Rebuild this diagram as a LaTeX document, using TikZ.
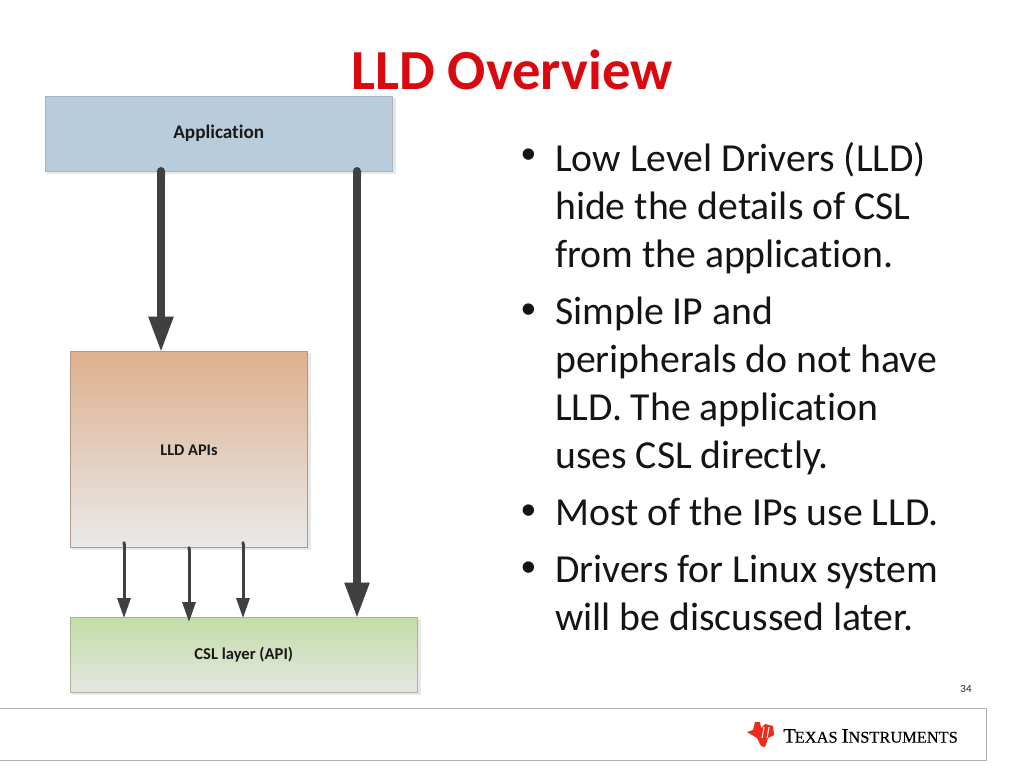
\documentclass[tikz,border=0pt]{standalone}
\usepackage{fontspec}
\setmainfont[Ligatures=NoCommon]{Carlito}
\newfontfamily\serifti[FakeBold=0.4]{Liberation Serif}
\newfontfamily\bulletfont{Liberation Sans}
\usetikzlibrary{arrows.meta}
\definecolor{arrowgray}{HTML}{404040}
\definecolor{appblue}{HTML}{B8CCDC}
\definecolor{lldtop}{HTML}{DEB08E}
\definecolor{lldbot}{HTML}{E9E9E9}
\definecolor{csltop}{HTML}{C2DDA6}
\definecolor{cslbot}{HTML}{E6E6E4}
\definecolor{tired}{HTML}{EE2A1B}
\definecolor{titlered}{HTML}{D90A0F}
\tikzset{
  blockbox/.style={anchor=north west,inner sep=0pt,outer sep=0pt,draw=#1,line width=0.8pt,text=black!90},
  bigarrow/.style={draw=#1,line width=8pt,{Round Cap[]}-{Triangle[length=36pt,width=23pt]}},
  smallarrow/.style={draw=#1,line width=3pt,{Round Cap[]}-{Triangle[length=20pt,width=13pt]}},
  bullettext/.style={anchor=north west,inner sep=0pt,align=left,text=black!92,font=\fontsize{39.7}{48}\selectfont},
  bulletmark/.style={anchor=center,inner sep=0pt,text=black!92,font=\bulletfont\fontsize{42}{48}\selectfont},
  boxshadow/.style={fill=black!9,draw=none},
}
\begin{document}
\begin{tikzpicture}[x=1pt,y=-1pt]
\useasboundingbox (0,0) rectangle (1024,768);
% shadows
\fill[boxshadow] (47,98) rectangle (395.5,173.5);
\fill[boxshadow] (72,353) rectangle (310.5,549.5);
\fill[boxshadow] (72,619) rectangle (420.5,694.5);
% blocks
\node[blockbox=appblue!70!gray,fill=appblue,minimum width=347.5pt,minimum height=74.5pt,font=\bfseries\fontsize{19.2}{22}\selectfont] (app) at (45,96.5) {Application};
\node[blockbox=lldtop!50!gray,top color=lldtop,bottom color=lldbot,minimum width=237.5pt,minimum height=196pt] (lld) at (70,351) {};
\node[font=\bfseries\fontsize{16.3}{19}\selectfont,text=black!90] (lldlabel) at (189,450) {LLD APIs};
\node[blockbox=csltop!60!gray,top color=csltop,bottom color=cslbot,minimum width=347.5pt,minimum height=75pt,font=\bfseries\fontsize{16.6}{19}\selectfont] (csl) at (70,617.5) {CSL layer (API)};
% title
\node[text=titlered,font=\bfseries\fontsize{56.6}{64}\selectfont] (title) at (512,70) {LLD Overview};
% connector ends
\coordinate (a1s) at (161,167);
\coordinate (a1e) at (161,352.5);
\coordinate (a2s) at (357,167);
\coordinate (a2e) at (357,618.5);
\coordinate (s1s) at (124,541);
\coordinate (s1e) at (124,618);
\coordinate (s2s) at (189,546);
\coordinate (s2e) at (189,622);
\coordinate (s3s) at (243,541);
\coordinate (s3e) at (243,618);
% connector shadows
\begin{scope}[xshift=3pt,yshift=-1pt]
\draw[bigarrow=black!9] (a1s) -- (a1e);
\draw[bigarrow=black!9] (a2s) -- (a2e);
\draw[smallarrow=black!9] (s1s) -- (s1e);
\draw[smallarrow=black!9] (s2s) -- (s2e);
\draw[smallarrow=black!9] (s3s) -- (s3e);
\end{scope}
% connectors
\draw[bigarrow=arrowgray] (a1s) -- (a1e);
\draw[bigarrow=arrowgray] (a2s) -- (a2e);
\draw[smallarrow=arrowgray] (s1s) -- (s1e);
\draw[smallarrow=arrowgray] (s2s) -- (s2e);
\draw[smallarrow=arrowgray] (s3s) -- (s3e);
% bullets
\node[bulletmark] (b1) at (529,159) {•};
\node[bullettext] (t1) at (555,142) {Low Level Drivers (LLD)\\hide the details of CSL\\from the application.};
\node[bulletmark] (b2) at (529,314) {•};
\node[bullettext] (t2) at (555,297) {Simple IP and\\peripherals do not have\\LLD. The application\\uses CSL directly.};
\node[bulletmark] (b3) at (529,515) {•};
\node[bullettext] (t3) at (555,498) {Most of the IPs use LLD.};
\node[bulletmark] (b4) at (529,572) {•};
\node[bullettext] (t4) at (555,555) {Drivers for Linux system\\will be discussed later.};
% footer
\node[text=black!85,font=\fontsize{11}{12}\selectfont] (page) at (966,689) {34};
\draw[draw=black!30,line width=1pt,fill=white] (-2,708) rectangle (986.5,760);
% logo
\fill[tired] (747,732) -- (753,730) -- (755,722) -- (760,722) -- (761,728) -- (765,724) -- (773,726) -- (774,735) -- (768,738) -- (765,747) -- (761,746) -- (757,738) -- (752,735) -- cycle;
\draw[white,line width=1pt] (764,727) -- (762,738) (769,727) -- (767,738);
\node[anchor=west,inner sep=0pt,text=black,font=\serifti\fontsize{20.6}{20}\selectfont] (ti) at (783,736) {T\kern-1pt{\fontsize{16.4}{20}\selectfont EXAS}\kern4pt I{\fontsize{16.4}{20}\selectfont NSTRUMENTS}};
\end{tikzpicture}
\end{document}
